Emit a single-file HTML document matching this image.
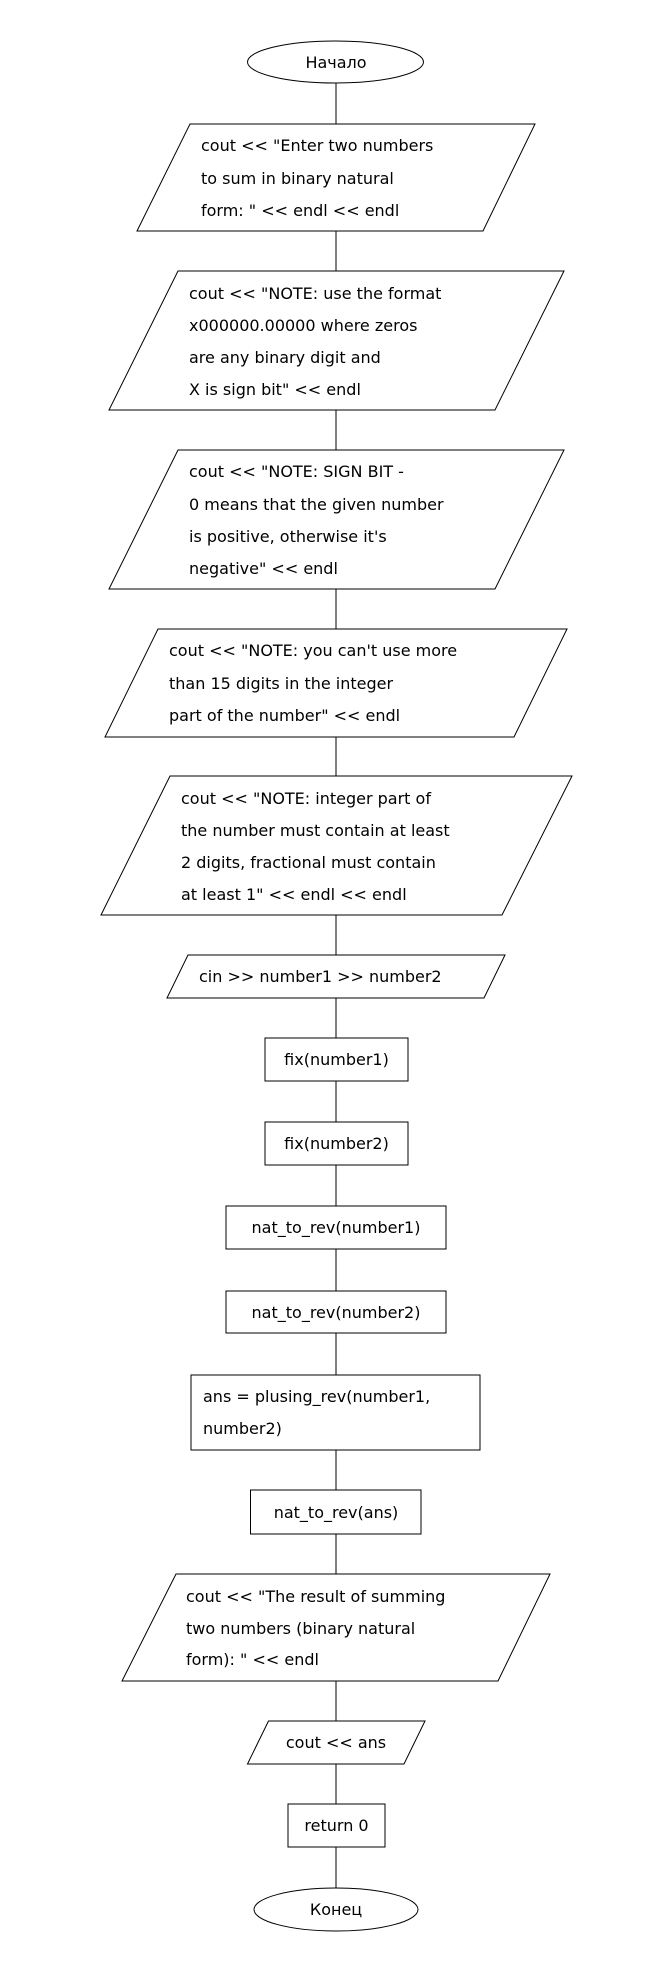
<!DOCTYPE html>
<html><head><meta charset="utf-8"><style>
html,body{margin:0;padding:0;background:#fff;}
svg{display:block;}
text{font-family:"DejaVu Sans","Liberation Sans",sans-serif;font-size:16px;fill:#000;}
</style></head><body>
<svg width="668" height="1972" viewBox="0 0 668 1972" xmlns="http://www.w3.org/2000/svg">
<line x1="336" y1="83" x2="336" y2="1888" stroke="#000" stroke-width="1"/>
<g stroke="#000" stroke-width="1" fill="#fff">
<ellipse cx="335.5" cy="62" rx="88" ry="21"/>
<polygon points="190,124 535,124 483,231 137,231"/>
<polygon points="178,271 564,271 495,410 109,410"/>
<polygon points="178,450 564,450 495,589 109,589"/>
<polygon points="158,629 567,629 514,737 105,737"/>
<polygon points="170,776 572,776 502,915 101,915"/>
<polygon points="188,955 505,955 484,998 167,998"/>
<rect x="265" y="1038" width="143" height="43"/>
<rect x="265" y="1122" width="143" height="43"/>
<rect x="226" y="1206" width="220" height="43"/>
<rect x="226" y="1291" width="220" height="42"/>
<rect x="191" y="1375" width="289" height="75"/>
<rect x="250.5" y="1490" width="170.5" height="44"/>
<polygon points="176,1574 550,1574 498,1681 122,1681"/>
<polygon points="268.5,1721 425,1721 404,1764 247.5,1764"/>
<rect x="288" y="1804" width="97" height="43"/>
<ellipse cx="336" cy="1909.5" rx="82" ry="21.5"/>
</g>
<text x="336" y="68" text-anchor="middle">Начало</text>
<text x="201" y="151">cout &lt;&lt; "Enter two numbers</text>
<text x="201" y="184">to sum in binary natural</text>
<text x="201" y="216">form: " &lt;&lt; endl &lt;&lt; endl</text>
<text x="189" y="299">cout &lt;&lt; "NOTE: use the format</text>
<text x="189" y="331">x000000.00000 where zeros</text>
<text x="189" y="363">are any binary digit and</text>
<text x="189" y="395">X is sign bit" &lt;&lt; endl</text>
<text x="189" y="477">cout &lt;&lt; "NOTE: SIGN BIT -</text>
<text x="189" y="510">0 means that the given number</text>
<text x="189" y="542">is positive, otherwise it's</text>
<text x="189" y="574">negative" &lt;&lt; endl</text>
<text x="169" y="656">cout &lt;&lt; "NOTE: you can't use more</text>
<text x="169" y="689">than 15 digits in the integer</text>
<text x="169" y="721">part of the number" &lt;&lt; endl</text>
<text x="181" y="804">cout &lt;&lt; "NOTE: integer part of</text>
<text x="181" y="836">the number must contain at least</text>
<text x="181" y="868">2 digits, fractional must contain</text>
<text x="181" y="900">at least 1" &lt;&lt; endl &lt;&lt; endl</text>
<text x="199" y="982">cin &gt;&gt; number1 &gt;&gt; number2</text>
<text x="336.5" y="1065" text-anchor="middle">fix(number1)</text>
<text x="336.5" y="1149" text-anchor="middle">fix(number2)</text>
<text x="336" y="1233" text-anchor="middle">nat_to_rev(number1)</text>
<text x="336" y="1318" text-anchor="middle">nat_to_rev(number2)</text>
<text x="203" y="1402">ans = plusing_rev(number1,</text>
<text x="203" y="1434">number2)</text>
<text x="336" y="1518" text-anchor="middle">nat_to_rev(ans)</text>
<text x="186" y="1602">cout &lt;&lt; "The result of summing</text>
<text x="186" y="1634">two numbers (binary natural</text>
<text x="186" y="1665">form): " &lt;&lt; endl</text>
<text x="336" y="1748" text-anchor="middle">cout &lt;&lt; ans</text>
<text x="336.5" y="1831" text-anchor="middle">return 0</text>
<text x="336" y="1915" text-anchor="middle">Конец</text>
</svg>
</body></html>
